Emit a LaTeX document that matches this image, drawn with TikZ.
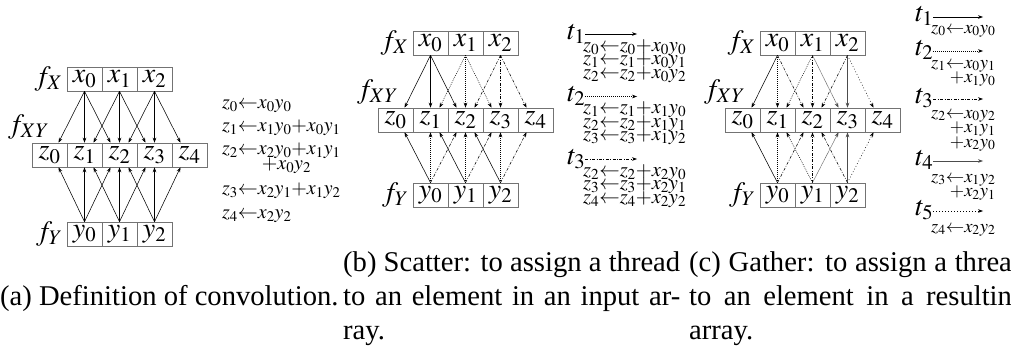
\documentclass[tikz,border=0pt]{standalone}
\usepackage{mathptmx}
\usepackage{fontspec}
\setmainfont{Liberation Serif}
\newfontfamily\capfont{Liberation Serif}
\usetikzlibrary{arrows.meta,positioning}

\tikzset{
  cell/.style={draw=black!55, line width=0.6pt, minimum width=35pt, minimum height=24pt,
    inner sep=0pt, font=\fontsize{28}{28}\selectfont},
  lbl/.style={inner sep=0pt, font=\fontsize{28}{28}\selectfont},
  tl/.style={inner sep=0pt, anchor=base west, font=\fontsize{28}{28}\selectfont},
  eqa/.style={inner sep=0pt, anchor=base west, font=\fontsize{20}{12}\selectfont},
  eqb/.style={inner sep=0pt, anchor=base west, font=\fontsize{20.5}{13}\selectfont},
  eqc/.style={inner sep=0pt, anchor=base west, font=\fontsize{18.5}{12.5}\selectfont},
  captext/.style={inner sep=0pt, anchor=base west, font=\capfont\fontsize{28.6}{28.6}\selectfont},
  arr/.style={-{Stealth[length=5pt,width=3.6pt]}, line width=0.55pt},
  th1/.style={arr},
  th2/.style={arr, dash pattern=on 0.8pt off 1.2pt},
  th3/.style={arr, dash pattern=on 3pt off 1.5pt on 0.8pt off 1.5pt},
  th4/.style={arr, black!70, dash pattern=on 0.5pt off 0.5pt},
  th5/.style={arr, dash pattern=on 0.8pt off 2.2pt}
}

\begin{document}
\begin{tikzpicture}[x=1pt, y=-1pt]
\useasboundingbox (0,0) rectangle (1011,356);

% (a) definition of convolution
\foreach \i in {0,1,2}
  \node[cell] (ax\i) at ({84.5+35*\i},79) {$x_\i$};
\foreach \i in {0,...,4}
  \node[cell] (az\i) at ({49.5+35*\i},155) {$z_\i$};
\foreach \i in {0,1,2}
  \node[cell] (ay\i) at ({84.5+35*\i},234) {$y_\i$};
\node[lbl, left=4pt of ax0] (afx) {$f_X$};
\node[lbl, anchor=south, yshift=3pt, xshift=-3pt] (afxy) at (az0.north west) {$f_{XY}$};
\node[lbl, left=4pt of ay0] (afy) {$f_Y$};
\foreach \i in {0,1,2}
  \foreach \k in {0,1,2} {
    \pgfmathtruncatemacro\j{\i+\k}
    \draw[arr] (ax\i.south) -- ([xshift={9*(1-\k)}]az\j.north);
    \draw[arr] (ay\k.north) -- ([xshift={9*(1-\i)}]az\j.south);
  }
% sums
\node[eqa] (ae0) at (222,108) {$z_0{\leftarrow}x_0y_0$};
\node[eqa] (ae1) at (222,131) {$z_1{\leftarrow}x_1y_0{+}x_0y_1$};
\node[eqa] (ae2) at (222,154) {$z_2{\leftarrow}\begin{array}[t]{@{}l@{}}x_2y_0{+}x_1y_1\\\hspace{4pt}{+}x_0y_2\end{array}$};
\node[eqa] (ae3) at (222,194) {$z_3{\leftarrow}x_2y_1{+}x_1y_2$};
\node[eqa] (ae4) at (222,218) {$z_4{\leftarrow}x_2y_2$};

% (b) scatter
\foreach \i in {0,1,2}
  \node[cell] (bx\i) at ({430.5+35*\i},43) {$x_\i$};
\foreach \i in {0,...,4}
  \node[cell] (bz\i) at ({395.5+35*\i},120) {$z_\i$};
\foreach \i in {0,1,2}
  \node[cell] (by\i) at ({430.5+35*\i},195) {$y_\i$};
\node[lbl, left=4pt of bx0] (bfx) {$f_X$};
\node[lbl, anchor=south, yshift=3pt] (bfxy) at (bz0.north west) {$f_{XY}$};
\node[lbl, left=4pt of by0] (bfy) {$f_Y$};
\foreach \i in {0,1,2}
  \foreach \k in {0,1,2} {
    \pgfmathtruncatemacro\j{\i+\k}
    \pgfmathtruncatemacro\t{\i+1}
    \draw[th\t] (bx\i.south) -- ([xshift={9*(1-\k)}]bz\j.north);
    \draw[th\t] (by\k.north) -- ([xshift={9*(1-\i)}]bz\j.south);
  }
% threads
\foreach \n in {1,2,3} {
  \node[tl] (bt\n) at (567,{39+62.5*(\n-1)}) {$t_\n$};
  \coordinate (bta\n) at (637,{34+62.5*(\n-1)});
  \draw[th\n] (bt\n.east |- bta\n) -- (bta\n);
}
\foreach \i in {0,1,2}
  \foreach \k in {0,1,2} {
    \pgfmathtruncatemacro\j{\i+\k}
    \node[eqb] (be\i\k) at (583,{51+62.5*\i+13.5*\k}) {$z_\j{\leftarrow}z_\j{+}x_\i y_\k$};
  }

% (c) gather
\foreach \i in {0,1,2}
  \node[cell] (cx\i) at ({777.5+35*\i},43) {$x_\i$};
\foreach \i in {0,...,4}
  \node[cell] (cz\i) at ({742.5+35*\i},120) {$z_\i$};
\foreach \i in {0,1,2}
  \node[cell] (cy\i) at ({777.5+35*\i},195) {$y_\i$};
\node[lbl, left=4pt of cx0] (cfx) {$f_X$};
\node[lbl, anchor=south, yshift=3pt] (cfxy) at (cz0.north west) {$f_{XY}$};
\node[lbl, left=4pt of cy0] (cfy) {$f_Y$};
\foreach \i in {0,1,2}
  \foreach \k in {0,1,2} {
    \pgfmathtruncatemacro\j{\i+\k}
    \pgfmathtruncatemacro\t{\j+1}
    \draw[th\t] (cx\i.south) -- ([xshift={9*(1-\k)}]cz\j.north);
    \draw[th\t] (cy\k.north) -- ([xshift={9*(1-\i)}]cz\j.south);
  }
% threads
\node[tl] (ct1) at (915,21) {$t_1$};
\node[tl] (ct2) at (915,55) {$t_2$};
\node[tl] (ct3) at (915,103) {$t_3$};
\node[tl] (ct4) at (915,165) {$t_4$};
\node[tl] (ct5) at (915,215) {$t_5$};
\foreach \n in {1,...,5} {
  \coordinate (cta\n) at (983,0 |- ct\n.base);
  \coordinate (ctb\n) at ([yshift=4pt]cta\n);
  \draw[th\n] (ct\n.east |- ctb\n) -- (ctb\n);
}
\node[eqc] (ce1) at (931,33) {$z_0{\leftarrow}x_0y_0$};
\node[eqc] (ce2) at (931,68) {$z_1{\leftarrow}\begin{array}[t]{@{}l@{}}x_0y_1\\\llap{$+$}x_1y_0\end{array}$};
\node[eqc] (ce3) at (931,118) {$z_2{\leftarrow}\begin{array}[t]{@{}l@{}}x_0y_2\\\llap{$+$}x_1y_1\\\llap{$+$}x_2y_0\end{array}$};
\node[eqc] (ce4) at (931,182) {$z_3{\leftarrow}\begin{array}[t]{@{}l@{}}x_1y_2\\\llap{$+$}x_2y_1\end{array}$};
\node[eqc] (ce5) at (931,232) {$z_4{\leftarrow}x_2y_2$};

% captions
\node[captext] (capa) at (0,305) {(a) Definition of convolution.};
\node[captext] (capb1) at (343,271) {\makebox[337pt][s]{(b) Scatter: to assign a thread}};
\node[captext] (capb2) at (343,305) {\makebox[337pt][s]{to an element in an input ar-}};
\node[captext] (capb3) at (343,339) {ray.};
\node[captext] (capc1) at (689,271) {\makebox[337pt][s]{(c) Gather: to assign a thread}};
\node[captext] (capc2) at (689,305) {\makebox[337pt][s]{to an element in a resulting}};
\node[captext] (capc3) at (689,339) {array.};
\end{tikzpicture}
\end{document}
